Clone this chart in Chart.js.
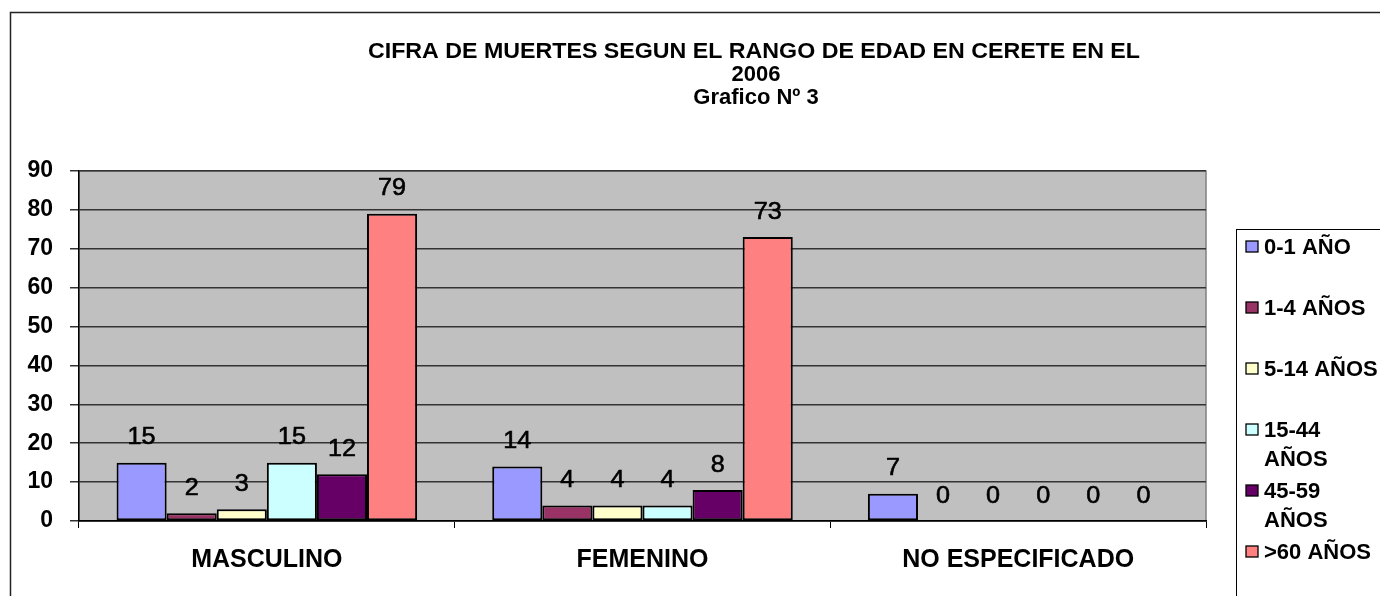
<!DOCTYPE html>
<html>
<head>
<meta charset="utf-8">
<script src="https://cdn.jsdelivr.net/npm/chart.js@4/dist/chart.umd.min.js"></script>
<style>
html,body{margin:0;padding:0;background:#fff;}
#wrap{position:relative;width:1380px;height:596px;}
</style>
</head>
<body>
<div id="wrap"><canvas id="c" width="1380" height="596"></canvas></div>
<script>
// ---- data ----
const categories = ['MASCULINO', 'FEMENINO', 'NO ESPECIFICADO'];
const seriesNames = ['0-1 AÑO', '1-4 AÑOS', '5-14 AÑOS', '15-44 AÑOS', '45-59 AÑOS', '>60 AÑOS'];
const age0to1 = [15, 14, 7];
const age1to4 = [2, 4, 0];
const age5to14 = [3, 4, 0];
const age15to44 = [15, 4, 0];
const age45to59 = [12, 8, 0];
const age60plus = [79, 73, 0];
const seriesColors = ['#9999FF', '#993366', '#FFFFCC', '#CCFFFF', '#660066', '#FF8080'];
const titleLines = ['CIFRA DE MUERTES SEGUN EL RANGO DE EDAD EN CERETE EN EL', '2006', 'Grafico Nº 3'];
const legendLines = [['0-1 AÑO'], ['1-4 AÑOS'], ['5-14 AÑOS'], ['15-44', 'AÑOS'], ['45-59', 'AÑOS'], ['>60 AÑOS']];
const yMin = 0, yMax = 90, yStep = 10;

const allSeries = [age0to1, age1to4, age5to14, age15to44, age45to59, age60plus];
const FONT = '"Liberation Sans", Arial, sans-serif';

const datasets = allSeries.map((d, i) => ({
  label: seriesNames[i],
  data: d,
  backgroundColor: seriesColors[i],
  borderColor: '#000',
  borderWidth: 2,
  borderSkipped: false,
  categoryPercentage: 0.8,
  barPercentage: 1.0
}));

const framePlugin = {
  id: 'frame',
  beforeDraw(chart) {
    const ctx = chart.ctx, a = chart.chartArea;
    ctx.save();
    ctx.fillStyle = '#fff';
    ctx.fillRect(0, 0, chart.width, chart.height);
    // outer frame
    ctx.strokeStyle = '#222';
    ctx.lineWidth = 1.5;
    ctx.beginPath();
    ctx.moveTo(10.5, 596); ctx.lineTo(10.5, 12.5); ctx.lineTo(1380, 12.5);
    ctx.stroke();
    // plot bg
    ctx.fillStyle = '#C0C0C0';
    ctx.fillRect(a.left, a.top, a.right - a.left, a.bottom - a.top);
    ctx.strokeStyle = '#808080';
    ctx.lineWidth = 1.5;
    ctx.strokeRect(a.left, a.top, a.right - a.left, a.bottom - a.top);
    ctx.restore();
  },
  afterDraw(chart) {
    const ctx = chart.ctx;
    ctx.save();
    // title
    ctx.fillStyle = '#000';
    ctx.textAlign = 'center';
    ctx.textBaseline = 'middle';
    ctx.font = 'bold 22px ' + FONT;
    const tys = [52, 75, 98];
    titleLines.forEach((t, i) => {
      const w = ctx.measureText(t).width;
      ctx.save();
      ctx.translate(i === 0 ? 754 : 756, tys[i]);
      const sx = i === 0 ? 772 / w : 1.0;
      ctx.scale(sx, 1);
      ctx.fillText(t, 0, 0);
      ctx.restore();
    });
    // legend
    ctx.strokeStyle = '#000';
    ctx.lineWidth = 1;
    ctx.strokeRect(1236.5, 229.5, 200, 400);
    ctx.font = 'bold 22px ' + FONT;
    ctx.textAlign = 'left';
    legendLines.forEach((lines, i) => {
      const y = 247 + i * 61;
      ctx.fillStyle = seriesColors[i];
      ctx.fillRect(1246, y - 6, 12, 11);
      ctx.strokeStyle = '#000';
      ctx.lineWidth = 1.3;
      ctx.strokeRect(1246, y - 6, 12, 11);
      ctx.fillStyle = '#000';
      lines.forEach((l, j) => ctx.fillText(l, 1264, y + 1 + j * 28.5));
    });
    // data labels
    ctx.font = '24px ' + FONT;
    ctx.textAlign = 'center';
    chart.data.datasets.forEach((ds, di) => {
      chart.getDatasetMeta(di).data.forEach((bar, bi) => {
        ctx.save();
        ctx.translate(bar.x, bar.y - 25);
        ctx.scale(1.05, 1);
        ctx.lineWidth = 0.6;
        ctx.strokeStyle = '#000';
        ctx.strokeText(String(ds.data[bi]), 0, 0);
        ctx.fillText(String(ds.data[bi]), 0, 0);
        ctx.restore();
      });
    });
    ctx.restore();
  }
};

new Chart(document.getElementById('c'), {
  type: 'bar',
  data: { labels: categories, datasets },
  plugins: [framePlugin],
  options: {
    responsive: false,
    animation: false,
    layout: { padding: { left: 0, top: 171, right: 174, bottom: 0 } },
    plugins: { legend: { display: false }, title: { display: false }, tooltip: { enabled: false } },
    scales: {
      x: {
        grid: { display: true, drawOnChartArea: false, drawTicks: true, tickLength: 7, color: '#000', offset: true },
        border: { display: true, color: '#000', width: 1.5 },
        ticks: { color: '#000', font: { family: FONT, size: 25, weight: 'bold' }, padding: 17, maxRotation: 0 },
        afterFit(s) { s.height = 75; }
      },
      y: {
        min: yMin, max: yMax,
        grid: { color: '#333', lineWidth: 1.5, tickLength: 9 },
        border: { display: true, color: '#000', width: 1.5 },
        ticks: { stepSize: yStep, color: '#000', font: { family: FONT, size: 23, weight: 'bold' }, padding: 17 },
        afterFit(s) { s.width = 79; }
      }
    }
  }
});
</script>
</body>
</html>
